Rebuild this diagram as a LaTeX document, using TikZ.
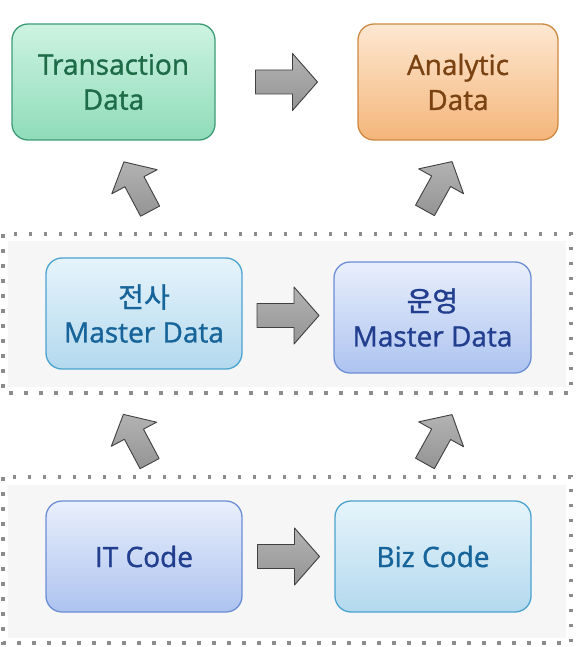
\documentclass[tikz,border=0pt]{standalone}
\usepackage{fontspec}
\setmainfont{Open Sans}[UprightFeatures={FakeBold=1.2}]
\newfontfamily\kr{Noto Sans CJK KR}[UprightFeatures={FakeBold=1.2}]
\usetikzlibrary{calc}

\definecolor{txtop}{HTML}{CDF3E1}
\definecolor{txbot}{HTML}{8FDCB9}
\definecolor{txline}{HTML}{3D9C76}
\definecolor{txtext}{HTML}{1D6B47}
\definecolor{antop}{HTML}{FDE8D2}
\definecolor{anbot}{HTML}{F4B57A}
\definecolor{anline}{HTML}{CF8840}
\definecolor{antext}{HTML}{7A4210}
\definecolor{skytop}{HTML}{E6F4FB}
\definecolor{skybot}{HTML}{B3D9EE}
\definecolor{skyline}{HTML}{4BA3CF}
\definecolor{skytext}{HTML}{16649A}
\definecolor{bluetop}{HTML}{E9EFFC}
\definecolor{bluebot}{HTML}{ADC3EF}
\definecolor{blueline}{HTML}{6B8ED6}
\definecolor{bluetext}{HTML}{223F8F}
\definecolor{dotgray}{HTML}{8C8C8C}
\definecolor{zonefill}{HTML}{F6F6F6}

\tikzset{
  databox/.style={rounded corners=16pt, line width=1.3pt, align=center,
    inner sep=0pt, minimum width=196pt, minimum height=111pt,
    font=\fontsize{28}{35}\selectfont},
  greenbox/.style={databox, draw=txline, top color=txtop, bottom color=txbot, text=txtext},
  orangebox/.style={databox, draw=anline, top color=antop, bottom color=anbot, text=antext},
  skybox/.style={databox, draw=skyline, top color=skytop, bottom color=skybot, text=skytext},
  bluebox/.style={databox, draw=blueline, top color=bluetop, bottom color=bluebot, text=bluetext},
  zone/.style={draw=dotgray, line width=3.5pt, dash pattern=on 3.5pt off 11.5pt},
  arrowbody/.style={draw=black!75, line width=0.9pt, line join=round,
    top color=black!30, middle color=black!66, bottom color=black!42},
  fatarrow/.pic={
    \draw[arrowbody] (-31,-12) -- (6,-12) -- (6,-28.5) -- (31,0)
      -- (6,28.5) -- (6,12) -- (-31,12) -- cycle;
  }
}

\begin{document}
\begin{tikzpicture}[x=1pt,y=-1pt]
    \fill[white] (0,0) rectangle (576,647);
    \useasboundingbox (0,0) rectangle (576,647);
    % dotted zones
    \fill[zonefill] (8,241) rectangle (566,387);
    \fill[zonefill] (8,485) rectangle (566,638);
    \draw[zone] (3,234) rectangle (571,393);
    \draw[zone] (3,477) rectangle (571,643);
    % data boxes
    \node[greenbox, minimum width=203pt, minimum height=116pt] (trans) at (113.5,82) {Transaction\\Data};
    \node[orangebox, minimum width=200pt, minimum height=116pt] (analytic) at (458,82) {Analytic\\Data};
    \node[skybox] (entmaster) at (144,313.5) {{\kr 전사}\\Master Data};
    \node[bluebox, minimum width=197pt] (opsmaster) at (432.5,317.5) {{\kr 운영}\\Master Data};
    \node[bluebox] (itcode) at (144,556.5) {IT Code};
    \node[skybox] (bizcode) at (433,556.5) {Biz Code};
    % flow arrows
    \pic (toanalytic) at ($(trans.east)!0.5!(analytic.west)$) {fatarrow};
    \pic (toops) at ($(entmaster.east)!0.5!(opsmaster.west)$) {fatarrow};
    \pic (tobiz) at ($(itcode.east)!0.5!(bizcode.west)$) {fatarrow};
    % tilted arrows between layers
    \pic[rotate=118, scale=0.9] (uptrans) at (137,186.5) {fatarrow};
    \pic[rotate=61, scale=0.9] (upanalytic) at (438.5,186) {fatarrow};
    \pic[rotate=118, scale=0.9] (upent) at (136.5,439) {fatarrow};
    \pic[rotate=61, scale=0.9] (upops) at (438.5,439) {fatarrow};
\end{tikzpicture}
\end{document}
